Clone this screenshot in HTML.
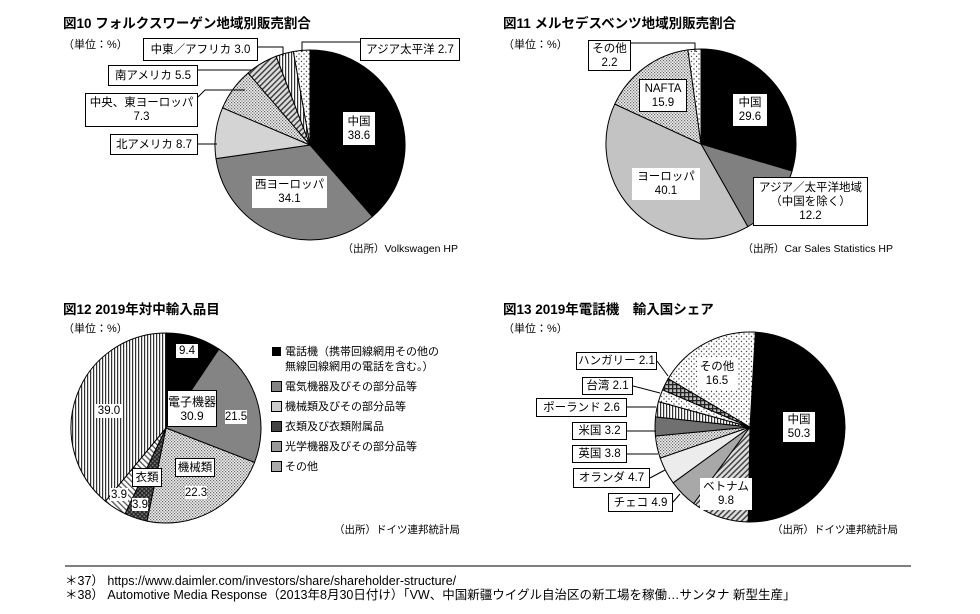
<!DOCTYPE html>
<html><head><meta charset="utf-8">
<style>
html,body{margin:0;padding:0;background:#fff;}
body{width:980px;height:614px;overflow:hidden;position:relative;font-family:"Liberation Sans","Noto Sans CJK JP",sans-serif;color:#000;}
.t{position:absolute;white-space:nowrap;}
.title{font-size:13.5px;font-weight:bold;}
.unit{font-size:11px;}
.src{font-size:10.5px;}
.box{position:absolute;background:#fff;border:1px solid #000;font-size:11.5px;text-align:center;line-height:14px;box-sizing:border-box;white-space:nowrap;display:flex;flex-direction:column;justify-content:center;align-items:center;}
.nb{border:none;}
svg{position:absolute;left:0;top:0;}
.fn{font-size:12.5px;font-family:"Liberation Sans Narrow","Liberation Sans","Noto Sans CJK JP",sans-serif;}
.lg{display:inline-block;width:9px;height:9px;margin-right:4px;vertical-align:-1px;}
</style></head><body>
<svg id="s" width="980" height="614" xmlns="http://www.w3.org/2000/svg">
<defs>
<pattern id="pdots" width="5" height="5" patternUnits="userSpaceOnUse"><rect width="5" height="5" fill="#fff"/><circle cx="1.5" cy="1.5" r="0.7" fill="#444"/><circle cx="4" cy="4" r="0.7" fill="#444"/></pattern>
<pattern id="pcheck" width="3" height="3" patternUnits="userSpaceOnUse"><rect width="3" height="3" fill="#eee"/><rect width="1.2" height="1.2" fill="#666"/><rect x="1.5" y="1.5" width="1.2" height="1.2" fill="#666"/></pattern>
<pattern id="pvert" width="3" height="3" patternUnits="userSpaceOnUse"><rect width="3" height="3" fill="#fff"/><rect width="1.2" height="3" fill="#333"/></pattern>
<pattern id="pdiag" width="4" height="4" patternUnits="userSpaceOnUse" patternTransform="rotate(45)"><rect width="4" height="4" fill="#ddd"/><rect width="1.5" height="4" fill="#444"/></pattern>
<pattern id="pdiagl" width="4" height="4" patternUnits="userSpaceOnUse" patternTransform="rotate(-45)"><rect width="4" height="4" fill="#fff"/><rect width="1.3" height="4" fill="#555"/></pattern>
<pattern id="pcross" width="4" height="4" patternUnits="userSpaceOnUse"><rect width="4" height="4" fill="#bbb"/><rect width="1.3" height="4" fill="#222"/><rect width="4" height="1.3" fill="#222"/></pattern>
<pattern id="pdark" width="3" height="3" patternUnits="userSpaceOnUse" patternTransform="rotate(45)"><rect width="3" height="3" fill="#777"/><rect width="1.2" height="3" fill="#222"/><rect width="3" height="1.2" fill="#222"/></pattern>
</defs>
<g id="g"></g>
<g stroke="#000" stroke-width="1" fill="none">
<polyline points="258,47 283,47 283,56"/>
<polyline points="360,42 302,42 302,52"/>
<line x1="198" y1="70" x2="252" y2="70"/>
<polyline points="198,97 205,90 245,90"/>
<line x1="198" y1="144" x2="217" y2="144"/>
<polyline points="631,43 695,43 695,52"/>
<line x1="657" y1="361" x2="668" y2="376"/>
<line x1="633" y1="386" x2="660" y2="393"/>
<line x1="627" y1="407" x2="656" y2="407"/>
<line x1="627" y1="431" x2="656" y2="431"/>
<line x1="627" y1="454" x2="658" y2="454"/>
<line x1="650" y1="478" x2="665" y2="470"/>
<line x1="673" y1="502" x2="680" y2="494"/>
<line x1="65" y1="566" x2="911" y2="566" stroke="#555" stroke-width="1.5"/>
</g>
</svg>
<script>
var ns="http://www.w3.org/2000/svg",g=document.getElementById('g');
function pie(cx,cy,r,data){var a=0;data.forEach(function(d){var a2=a+d[0]/100*2*Math.PI;
var x1=cx+r*Math.sin(a),y1=cy-r*Math.cos(a),x2=cx+r*Math.sin(a2),y2=cy-r*Math.cos(a2);
var p=document.createElementNS(ns,'path');
p.setAttribute('d','M'+cx+','+cy+' L'+x1+','+y1+' A'+r+','+r+' 0 '+((a2-a)>Math.PI?1:0)+' 1 '+x2+','+y2+' Z');
p.setAttribute('fill',d[1]);p.setAttribute('stroke','#000');p.setAttribute('stroke-width','1');g.appendChild(p);a=a2;});}
pie(310,145,95,[[38.6,'#000'],[34.1,'#838383'],[8.7,'#d4d4d4'],[7.3,'url(#pcheck)'],[5.5,'url(#pdiag)'],[3.0,'url(#pvert)'],[2.8,'url(#pdots)']]);
pie(701,144,95,[[29.6,'#000'],[12.2,'#808080'],[40.1,'#c3c3c3'],[15.9,'url(#pcheck)'],[2.2,'url(#pdots)']]);
pie(166,428,95,[[9.4,'#000'],[21.5,'#848484'],[22.3,'url(#pcheck)'],[3.9,'url(#pdark)'],[3.9,'url(#pdiagl)'],[39.0,'url(#pvert)']]);
pie(750,427,95,[[50.3,'#000'],[9.8,'url(#pdiag)'],[4.9,'#a8a8a8'],[4.7,'#ececec'],[3.8,'url(#pcheck)'],[3.2,'#707070'],[2.6,'url(#pvert)'],[2.1,'url(#pdots)'],[2.1,'url(#pcross)'],[17.4,'url(#pdots)']]);
</script>

<div class="t title" style="left:63px;top:12px">図10 フォルクスワーゲン地域別販売割合</div>
<div class="t unit" style="left:63px;top:36px">（単位：%）</div>
<div class="box" style="left:143px;top:38px;width:115px;height:23px">中東／アフリカ 3.0</div>
<div class="box" style="left:360px;top:38px;width:100px;height:23px">アジア太平洋 2.7</div>
<div class="box" style="left:108px;top:65px;width:90px;height:21px">南アメリカ 5.5</div>
<div class="box" style="left:85px;top:93px;width:113px;height:34px">中央、東ヨーロッパ<br>7.3</div>
<div class="box" style="left:110px;top:134px;width:88px;height:21px">北アメリカ 8.7</div>
<div class="box nb" style="left:343px;top:112px;width:32px;height:33px">中国<br>38.6</div>
<div class="box nb" style="left:252px;top:176px;width:75px;height:32px">西ヨーロッパ<br>34.1</div>
<div class="t src" style="right:522px;top:241px">（出所）Volkswagen HP</div>

<div class="t title" style="left:503px;top:12px">図11 メルセデスベンツ地域別販売割合</div>
<div class="t unit" style="left:503px;top:36px">（単位：%）</div>
<div class="box" style="left:588px;top:40px;width:43px;height:31px">その他<br>2.2</div>
<div class="box" style="left:639px;top:79px;width:48px;height:33px">NAFTA<br>15.9</div>
<div class="box nb" style="left:733px;top:94px;width:34px;height:32px">中国<br>29.6</div>
<div class="box nb" style="left:632px;top:168px;width:68px;height:32px">ヨーロッパ<br>40.1</div>
<div class="box" style="left:753px;top:177px;width:115px;height:49px">アジア／太平洋地域<br>（中国を除く）<br>12.2</div>
<div class="t src" style="right:87px;top:241px">（出所）Car Sales Statistics HP</div>

<div class="t title" style="left:63px;top:298px">図12 2019年対中輸入品目</div>
<div class="t unit" style="left:63px;top:320px">（単位：%）</div>
<div class="box nb" style="left:176px;top:344px;width:22px;height:14px">9.4</div>
<div class="box" style="left:167px;top:390px;width:50px;height:37px;font-size:12px">電子機器<br>30.9</div>
<div class="box nb" style="left:225px;top:410px;width:22px;height:14px">21.5</div>
<div class="box nb" style="left:95px;top:404px;width:28px;height:14px">39.0</div>
<div class="box" style="left:175px;top:458px;width:40px;height:19px">機械類</div>
<div class="box nb" style="left:185px;top:486px;width:22px;height:13px">22.3</div>
<div class="box" style="left:132px;top:468px;width:30px;height:19px">衣類</div>
<div class="box nb" style="left:110px;top:488px;width:18px;height:13px">3.9</div>
<div class="box nb" style="left:132px;top:498px;width:16px;height:13px">3.9</div>
<div class="t" style="left:272px;top:345px;font-size:11px;line-height:15px">
<div><span class="lg" style="background:#000"></span>電話機（携帯回線網用その他の</div>
<div style="padding-left:13px">無線回線網用の電話を含む。）</div>
<div style="margin-top:5px"><span class="lg" style="background:#848484;outline:1px solid #000"></span>電気機器及びその部分品等</div>
<div style="margin-top:5px"><span class="lg" style="background:#ccc;outline:1px solid #000"></span>機械類及びその部分品等</div>
<div style="margin-top:5px"><span class="lg" style="background:#444;outline:1px solid #000"></span>衣類及び衣類附属品</div>
<div style="margin-top:5px"><span class="lg" style="background:#999;outline:1px solid #000"></span>光学機器及びその部分品等</div>
<div style="margin-top:5px"><span class="lg" style="background:#aaa;outline:1px solid #000"></span>その他</div>
</div>
<div class="t src" style="right:520px;top:522px">（出所）ドイツ連邦統計局</div>

<div class="t title" style="left:503px;top:298px">図13 2019年電話機　輸入国シェア</div>
<div class="t unit" style="left:503px;top:320px">（単位：%）</div>
<div class="box" style="left:576px;top:352px;width:81px;height:18px">ハンガリー 2.1</div>
<div class="box" style="left:582px;top:377px;width:51px;height:18px">台湾 2.1</div>
<div class="box" style="left:536px;top:398px;width:91px;height:19px">ポーランド 2.6</div>
<div class="box" style="left:572px;top:422px;width:55px;height:18px">米国 3.2</div>
<div class="box" style="left:572px;top:445px;width:55px;height:18px">英国 3.8</div>
<div class="box" style="left:573px;top:468px;width:77px;height:20px">オランダ 4.7</div>
<div class="box" style="left:608px;top:493px;width:65px;height:19px">チェコ 4.9</div>
<div class="box nb" style="left:700px;top:478px;width:52px;height:32px">ベトナム<br>9.8</div>
<div class="box nb" style="left:697px;top:357px;width:40px;height:33px">その他<br>16.5</div>
<div class="box nb" style="left:783px;top:412px;width:32px;height:30px">中国<br>50.3</div>
<div class="t src" style="right:82px;top:522px">（出所）ドイツ連邦統計局</div>

<div class="t fn" style="left:65px;top:570px">＊37）&nbsp;https://www.daimler.com/investors/share/shareholder-structure/</div>
<div class="t fn" style="left:65px;top:584px">＊38）&nbsp;Automotive Media Response（2013年8月30日付け）「VW、中国新疆ウイグル自治区の新工場を稼働…サンタナ 新型生産」</div>
</body></html>
